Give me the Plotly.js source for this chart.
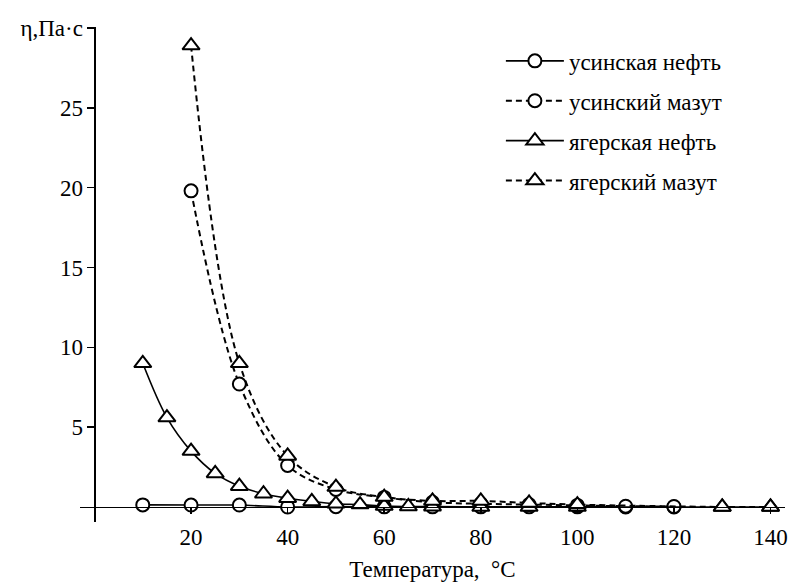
<!DOCTYPE html>
<html>
<head>
<meta charset="utf-8">
<script src="https://cdn.plot.ly/plotly-3.0.1.min.js"></script>
<style>html,body{margin:0;padding:0;background:#fff;}#chart{width:793px;height:585px;}</style>
</head>
<body>
<div id="chart"></div>
<script>
// Temperature, °C
const usNeftX = [10, 20, 30, 40, 50, 60, 70, 80, 90, 100, 110, 120];
const usNeftY = [0.13, 0.12, 0.12, 0.0, 0.02, 0.01, 0.01, 0.01, 0.01, 0.01, 0.0, 0.0];
const usMazutX = [20, 30, 40, 50, 60, 70, 80, 90, 100, 110, 120];
const usMazutY = [19.8, 7.7, 2.6, 1.1, 0.6, 0.3, 0.2, 0.15, 0.1, 0.05, 0.03];
const yagNeftX = [10, 15, 20, 25, 30, 35, 40, 45, 50, 55, 60, 65, 70, 80, 90, 100, 130, 140];
const yagNeftY = [9.0, 5.6, 3.5, 2.1, 1.3, 0.83, 0.55, 0.35, 0.2, 0.15, 0.06, 0.03, 0.02, 0.0, 0.0, 0.0, 0.0, 0.0];
const yagMazutX = [20, 30, 40, 50, 60, 70, 80, 90, 100, 130, 140];
const yagMazutY = [28.9, 9.0, 3.2, 1.25, 0.62, 0.38, 0.38, 0.25, 0.15, 0.0, 0.0];

const names = ['усинская нефть', 'усинский мазут', 'ягерская нефть', 'ягерский мазут'];
const yTickVals = [5, 10, 15, 20, 25, 30];
const yTickText = ['5', '10', '15', '20', '25', 'η,Па·с'];
const xTickVals = [20, 40, 60, 80, 100, 120, 140];

const FONT = '"Times New Roman", "Liberation Serif", "DejaVu Serif", serif';
const FS = 23;

function tr(x, y, name, dash, symbol, group) {
  return {
    x: x, y: y, name: name, type: 'scatter', mode: 'lines+markers',
    legendgroup: group,
    line: {color: '#000', width: dash === 'solid' ? 1.6 : 2, dash: dash, shape: 'spline'},
    marker: {symbol: symbol, size: symbol === 'circle' ? 13 : 15, color: '#fff',
             line: {color: '#000', width: 2}},
    cliponaxis: false
  };
}

const data = [
  tr(usNeftX, usNeftY, names[0], 'solid', 'circle', 'a'),
  tr(usMazutX, usMazutY, names[1], '6px,4px', 'circle', 'b'),
  tr(yagNeftX, yagNeftY, names[2], 'solid', 'triangle-up', 'c'),
  tr(yagMazutX, yagMazutY, names[3], '6px,4px', 'triangle-up', 'd')
];

const layout = {
  width: 793, height: 585,
  margin: {l: 80, r: 8, t: 27, b: 63},
  paper_bgcolor: '#fff', plot_bgcolor: '#fff',
  font: {family: FONT, size: FS, color: '#000'},
  showlegend: true,
  legend: {x: 0.597, y: 0.975, xanchor: 'left', yanchor: 'top',
           font: {family: FONT, size: FS, color: '#000'},
           tracegroupgap: 7, itemwidth: 58, bgcolor: 'rgba(0,0,0,0)'},
  xaxis: {
    range: [-3, 143], anchor: 'free', position: 0.94 / 31,
    showline: true, linecolor: '#000', linewidth: 1.5,
    showgrid: false, zeroline: false,
    tickmode: 'array', tickvals: xTickVals,
    ticks: 'outside', ticklen: 6, tickwidth: 1.5, tickcolor: '#000',
    ticklabelstandoff: 3,
    tickfont: {family: FONT, size: FS, color: '#000'},
    title: {text: 'Температура,  °C', font: {family: FONT, size: FS, color: '#000'}, standoff: 12}
  },
  yaxis: {
    range: [-0.94, 30.06], anchor: 'free', position: 3 / 146,
    showline: true, linecolor: '#000', linewidth: 1.5,
    showgrid: false, zeroline: false,
    tickmode: 'array', tickvals: yTickVals, ticktext: yTickText,
    ticks: 'outside', ticklen: 7, tickwidth: 1.5, tickcolor: '#000',
    tickfont: {family: FONT, size: FS, color: '#000'}
  },
  annotations: [
    {text: '0', xref: 'x', yref: 'y', x: -5.5, y: -0.6, showarrow: false,
     font: {family: FONT, size: FS, color: '#000'}, xanchor: 'center', yanchor: 'middle'}
  ]
};

Plotly.newPlot('chart', data, layout, {displayModeBar: false, staticPlot: true});
</script>
</body>
</html>
